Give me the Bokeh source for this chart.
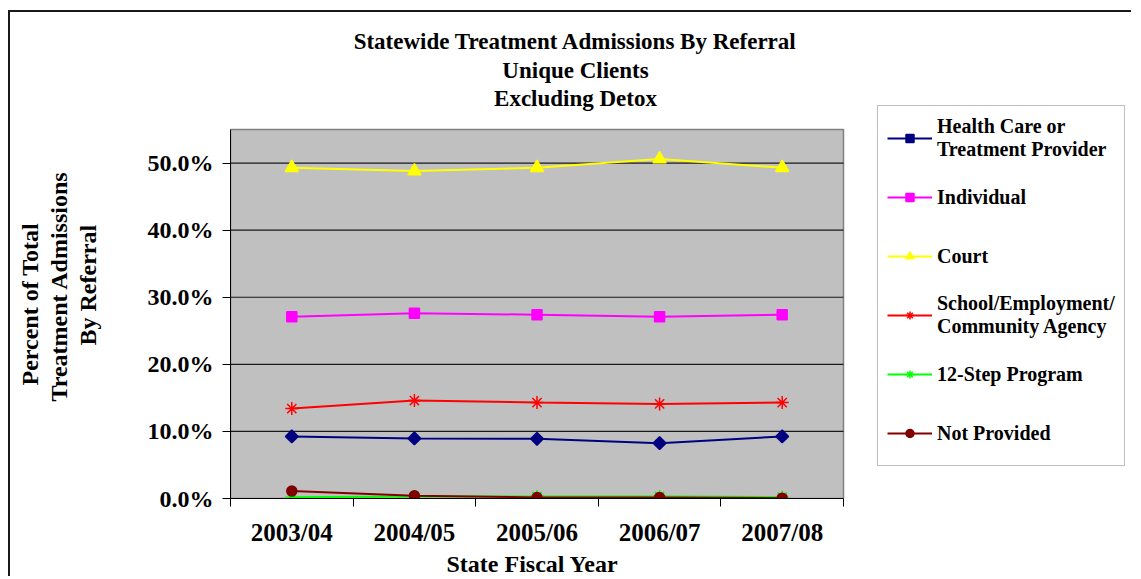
import math
from bokeh.plotting import figure
from bokeh.models import (FixedTicker, PrintfTickFormatter, Legend, LegendItem,
                          Title, Label, Range1d)
from bokeh.embed import file_html
from bokeh.resources import INLINE

# ---------------- data ----------------
years = ["2003/04", "2004/05", "2005/06", "2006/07", "2007/08"]
health_care = [9.25, 8.95, 8.9, 8.25, 9.25]
individual = [27.1, 27.6, 27.4, 27.1, 27.4]
court = [49.3, 48.8, 49.3, 50.6, 49.3]
school = [13.4, 14.6, 14.3, 14.1, 14.3]
twelve_step = [0.2, 0.3, 0.3, 0.3, 0.2]
not_provided = [1.1, 0.4, 0.15, 0.15, 0.05]
y_ticks = [0, 10, 20, 30, 40, 50]
y_max = 55
series_names = ["Health Care or\nTreatment Provider", "Individual", "Court",
                "School/Employment/\nCommunity Agency", "12-Step Program", "Not Provided"]
title_lines = ["Statewide Treatment Admissions By Referral", "Unique Clients", "Excluding Detox"]
ylabel_lines = ["Percent of Total", "Treatment  Admissions", "By Referral"]
xlabel = "State Fiscal Year"

FONT = "Liberation Serif"

# ---------------- layout constants (pixels) ----------------
W, H = 1123, 566
LEFT, BOTTOM = 220, 80
FRAME_W, FRAME_H = W - LEFT, H - BOTTOM
PLOT_W, PLOT_H = 613, 369          # grey plotting area inside the frame

n = len(years)
xs = [i + 0.5 for i in range(n)]
x_end = n * FRAME_W / PLOT_W
y_end = y_max * FRAME_H / PLOT_H

p = figure(width=W, height=H, output_backend="svg", toolbar_location=None,
           x_range=Range1d(0, x_end), y_range=Range1d(0, y_end),
           min_border_left=LEFT, min_border_right=0, min_border_top=0, min_border_bottom=BOTTOM,
           background_fill_color="white", border_fill_color="white",
           outline_line_color=None, title=None)
p.styles = {"margin-left": "8px", "margin-top": "10px",
            "border-left": "2px solid #1a1a1a", "border-top": "2px solid #1a1a1a"}
p.xgrid.visible = False
p.ygrid.visible = False

# grey plot area and horizontal gridlines
p.quad(left=0, right=n, bottom=0, top=y_max, fill_color="#C0C0C0",
       line_color="#808080", line_width=1.5)
grid_y = y_ticks[1:]
p.segment(x0=[0] * len(grid_y), x1=[n] * len(grid_y), y0=grid_y, y1=grid_y,
          line_color="#1a1a1a", line_width=1.2)

# x axis
xa = p.xaxis[0]
xa.bounds = (0, n)
xa.ticker = FixedTicker(ticks=xs, minor_ticks=list(range(n + 1)))
xa.major_label_overrides = {x: y for x, y in zip(xs, years)}
xa.major_tick_out = 0
xa.major_tick_in = 0
xa.minor_tick_out = 8
xa.minor_tick_in = 0
xa.minor_tick_line_color = "black"
xa.axis_line_color = "black"
xa.major_label_text_font = FONT
xa.major_label_text_font_style = "bold"
xa.major_label_text_font_size = "25px"
xa.major_label_text_color = "black"
xa.major_label_standoff = 12

# y axis
ya = p.yaxis[0]
ya.bounds = (0, y_max)
ya.ticker = FixedTicker(ticks=y_ticks, minor_ticks=[])
ya.formatter = PrintfTickFormatter(format="%.1f%%")
ya.major_tick_out = 8
ya.major_tick_in = 0
ya.axis_line_color = "black"
ya.major_tick_line_color = "black"
ya.major_label_text_font = FONT
ya.major_label_text_font_style = "bold"
ya.major_label_text_font_size = "24px"
ya.major_label_text_color = "black"
ya.major_label_standoff = 9

# series
styles = [
    dict(color="#000080", marker="square", size=9, angle=math.pi / 4),
    dict(color="#FF00FF", marker="square", size=10, angle=0),
    dict(color="#FFFF00", marker="triangle", size=13, angle=0),
    dict(color="#FF0000", marker="asterisk", size=13, angle=0),
    dict(color="#00FF00", marker="asterisk", size=13, angle=0),
    dict(color="#800000", marker="circle", size=10, angle=0),
]
all_vals = [health_care, individual, court, school, twelve_step, not_provided]
items = []
for name, vals, st in zip(series_names, all_vals, styles):
    ln = p.line(xs, vals, line_color=st["color"], line_width=2)
    sc = p.scatter(xs, vals, marker=st["marker"], size=st["size"], angle=st["angle"],
                   fill_color=st["color"], line_color=st["color"], line_width=1.5)
    items.append(LegendItem(label=name, renderers=[ln, sc]))

legend = Legend(items=items, location=(647, 32), orientation="vertical",
                border_line_color="#808080", border_line_width=1.5,
                background_fill_color="white", background_fill_alpha=1,
                glyph_width=45, glyph_height=20, label_standoff=5,
                label_height=46, padding=9, spacing=13, margin=0,
                label_text_font=FONT, label_text_font_style="bold",
                label_text_font_size="20px", label_text_color="black")
p.add_layout(legend)

# chart title (inside the frame area, above the grey plot)
for txt, yy in zip(title_lines, [457, 428, 400]):
    p.add_layout(Label(x=345, y=yy, x_units="screen", y_units="screen", text=txt,
                       text_align="center", text_baseline="middle",
                       text_font=FONT, text_font_style="bold", text_font_size="23px",
                       text_color="black"))

# x axis title
p.add_layout(Title(text=xlabel, align="left", offset=216, standoff=0,
                   text_font=FONT, text_font_style="bold", text_font_size="24px",
                   text_color="black"), "below")

# y axis title: spacer next to the tick labels, then lines stacked outward
p.add_layout(Title(text=" ", standoff=40, text_font_size="1px"), "left")
ylabel_offsets = [113, 97, 153]
for txt, off in reversed(list(zip(ylabel_lines, ylabel_offsets))):
    p.add_layout(Title(text=txt, align="left", offset=off, standoff=1,
                       text_font=FONT, text_font_style="bold", text_font_size="24px",
                       text_color="black"), "left")

open("out.html", "w").write(file_html(p, INLINE))
